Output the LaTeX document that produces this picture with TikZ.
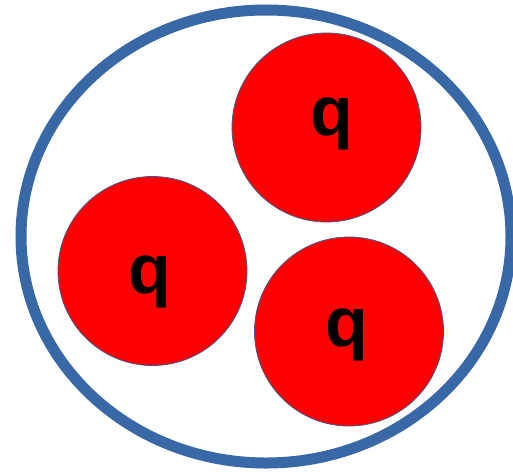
\documentclass[tikz,border=0pt]{standalone}
\usepackage{fontspec}
\setmainfont{Liberation Sans}
\usetikzlibrary{positioning}

\definecolor{bagblue}{RGB}{56,104,166}
\definecolor{edgeblue}{RGB}{60,90,150}

\tikzset{
  quark/.style={circle, fill=red, draw=edgeblue, line width=0.8pt, minimum size=189pt, inner sep=0pt},
  qtext/.style={font=\fontsize{70}{70}\selectfont\bfseries, inner sep=0pt}
}

\begin{document}
\begin{tikzpicture}[x=1pt,y=-1pt]

\useasboundingbox (0,0) rectangle (513,471);

% bag
\draw[bagblue, line width=11pt] (266,236.5) ellipse [x radius=245, y radius=226.5];

% quarks
\node[quark] (top) at (326.5,127.5) {};
\node[quark] (left) at (152.5,271) {};
\node[quark] (right) at (349,331.5) {};

\node[qtext] (qtop) at ([xshift=5pt,yshift=3.5pt]top.center) {q};
\node[qtext] (qleft) at ([xshift=-2.5pt,yshift=-10.5pt]left.center) {q};
\node[qtext] (qright) at ([xshift=-2pt,yshift=-3pt]right.center) {q};

\end{tikzpicture}
\end{document}
